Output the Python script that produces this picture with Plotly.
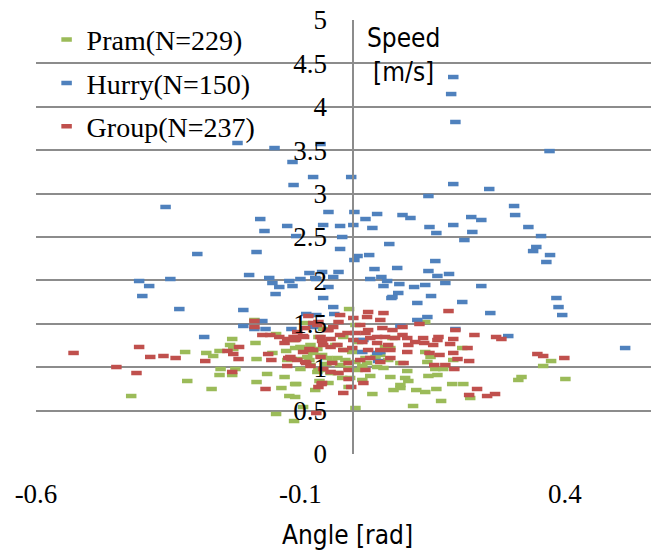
import plotly.graph_objects as go

# ---------------- data ----------------
pram_angle = [-0.420, -0.314, -0.318, -0.268, -0.278, -0.265, -0.253, -0.251, -0.253, -0.229,
              -0.233, -0.227, -0.229, -0.223, -0.187, -0.185, -0.183, -0.183, -0.163, -0.153,
              -0.146, -0.136, -0.130, -0.127, -0.121, -0.146, -0.125, -0.110, -0.108, -0.112,
              -0.095, -0.083, -0.076, -0.066, -0.066, -0.064, -0.051, -0.057, -0.087, -0.008,
              -0.113, -0.091, -0.100, -0.081, -0.068, -0.087, -0.106, -0.059, -0.049, -0.040,
              -0.030, -0.025, -0.015, -0.009, 0.004, 0.008, 0.017, 0.026, -0.021, -0.043,
              -0.030, -0.057, -0.068, -0.081, -0.100, -0.110, -0.110, -0.006, -0.009, 0.032,
              0.036, 0.070, 0.076, 0.089, 0.004, 0.023, 0.042, 0.051, 0.070, 0.074,
              0.060, 0.045, 0.004, -0.091, -0.019, 0.009, 0.089, 0.140, 0.146, 0.136,
              0.206, 0.189, 0.155, 0.170, 0.142, 0.159, 0.098, 0.104, 0.089, 0.119,
              0.136, 0.157, 0.187, 0.208, 0.166, 0.113, 0.221, 0.136, 0.312, 0.318,
              0.401, 0.359, 0.374, 0.102, -0.002, -0.034, 0.017, -0.017, -0.047, -0.072,
              0.057, 0.066]
pram_speed = [0.668, 0.841, 1.175, 0.749, 1.164, 1.129, 1.187, 0.979, 0.910, 1.325,
              1.256, 1.210, 0.910, 0.979, 1.544, 1.279, 1.094, 0.829, 0.922, 1.164,
              0.461, 0.760, 0.887, 1.187, 0.668, 1.382, 1.083, 1.221, 0.806, 0.380,
              0.541, 1.083, 1.164, 1.348, 0.968, 0.841, 1.037, 1.440, 1.187, 1.670,
              1.313, 1.198, 1.233, 1.256, 1.210, 1.118, 1.094, 1.141, 1.106, 1.060,
              1.106, 1.025, 1.083, 0.991, 1.060, 0.968, 1.014, 1.048, 0.876, 0.933,
              0.933, 0.968, 0.945, 1.025, 0.979, 0.806, 0.657, 0.876, 0.772, 0.899,
              0.691, 0.887, 0.737, 0.760, 0.530, 1.106, 1.118, 1.141, 1.221, 1.336,
              1.233, 1.002, 1.486, 1.509, 1.348, 1.290, 1.048, 1.060, 1.118, 1.175,
              1.221, 1.083, 0.979, 0.979, 0.899, 0.910, 0.876, 0.841, 0.795, 0.737,
              0.714, 0.749, 0.806, 0.806, 0.611, 0.553, 0.645, 1.521, 0.853, 0.887,
              0.864, 1.014, 1.071, 0.956, 1.175, 1.256, 0.853, 1.198, 0.818, 0.737,
              0.991, 1.083]

hurry_angle = [-0.219, -0.149, -0.062, -0.115, -0.076, -0.113, -0.355, -0.176, -0.125, -0.057,
               -0.168, -0.108, -0.295, -0.183, -0.405, -0.386, -0.346, -0.399, -0.197, -0.159,
               -0.153, -0.140, -0.147, -0.121, -0.115, -0.100, -0.083, -0.072, -0.057, -0.329,
               -0.208, -0.208, -0.172, -0.166, -0.089, -0.282, -0.117, -0.076, 0.189, 0.185,
               0.193, -0.004, 0.189, 0.257, 0.142, -0.047, 0.002, 0.023, 0.045, 0.093,
               0.108, -0.025, 0.000, 0.036, -0.021, 0.144, 0.157, 0.189, 0.223, 0.242,
               0.225, 0.210, -0.025, 0.068, 0.008, 0.002, 0.030, 0.155, 0.040, 0.083,
               0.142, 0.159, 0.181, 0.174, 0.242, -0.059, -0.028, -0.070, -0.038, -0.047,
               0.032, 0.053, 0.064, 0.057, 0.087, 0.115, 0.136, 0.085, 0.072, 0.121,
               0.147, 0.206, -0.038, -0.036, 0.121, 0.140, 0.259, -0.070, 0.019, 0.045,
               0.371, 0.304, 0.306, 0.331, 0.355, 0.346, 0.340, 0.372, 0.365, 0.384,
               0.388, 0.395, 0.293, 0.514, 0.193, 0.074, -0.187, 0.017, 0.051, 0.013,
               0.089, 0.047]
hurry_speed = [3.583, 3.525, 3.571, 3.364, 3.191, 3.099, 2.846, 2.707, 2.627, 2.638,
               2.569, 2.511, 2.304, 2.327, 1.993, 1.935, 2.016, 1.820, 2.062, 2.028,
               1.970, 1.924, 1.843, 1.993, 1.935, 2.016, 2.085, 2.028, 1.797, 1.670,
               1.659, 1.475, 1.532, 1.440, 1.613, 1.348, 1.440, 1.463, 4.343, 4.147,
               3.825, 3.191, 3.110, 3.053, 2.972, 2.788, 2.788, 2.707, 2.765, 2.753,
               2.719, 2.627, 2.638, 2.604, 2.500, 2.615, 2.546, 2.638, 2.730, 2.696,
               2.558, 2.465, 2.362, 2.419, 2.281, 2.235, 2.292, 2.223, 2.131, 2.143,
               2.108, 2.051, 2.074, 1.970, 1.935, 2.097, 2.097, 2.016, 2.039, 1.924,
               2.016, 2.039, 1.993, 1.935, 1.958, 1.924, 1.947, 1.855, 1.797, 1.740,
               1.820, 1.751, 1.693, 1.613, 1.544, 1.578, 1.624, 1.601, 1.313, 1.164,
               3.490, 2.857, 2.753, 2.615, 2.511, 2.385, 2.338, 2.292, 2.212, 1.797,
               1.693, 1.601, 1.359, 1.221, 1.440, 1.809, 1.440, 1.175, 1.175, 1.313,
               1.475, 1.071]

group_angle = [-0.529, -0.448, -0.410, -0.405, -0.384, -0.359, -0.336, -0.280, -0.238, -0.227,
               -0.229, -0.216, -0.217, -0.187, -0.187, -0.172, -0.161, -0.155, -0.166, -0.157,
               -0.140, -0.130, -0.125, -0.125, -0.117, -0.108, -0.093, -0.085, -0.083, -0.089,
               -0.076, -0.068, -0.070, -0.060, -0.057, -0.057, -0.047, -0.066, -0.025, 0.000,
               0.028, 0.026, 0.057, 0.051, -0.028, -0.038, 0.013, 0.028, 0.055, 0.074,
               -0.049, -0.091, -0.106, -0.113, -0.095, -0.110, -0.062, -0.043, -0.025, -0.011,
               0.004, 0.023, 0.032, 0.045, 0.060, 0.079, 0.000, 0.017, 0.045, 0.066,
               -0.059, -0.043, -0.030, -0.019, -0.002, 0.028, 0.051, 0.070, -0.076, -0.095,
               -0.119, -0.106, -0.091, -0.081, -0.062, -0.040, -0.009, 0.013, 0.032, 0.051,
               0.070, -0.043, -0.028, -0.009, 0.023, -0.009, 0.019, -0.059, -0.004, -0.019,
               -0.066, 0.180, 0.125, 0.193, 0.093, 0.093, 0.102, 0.117, 0.132, 0.134,
               0.161, 0.159, 0.189, 0.183, 0.229, 0.270, 0.280, 0.104, 0.151, 0.102,
               0.144, 0.163, 0.189, 0.216, 0.197, 0.219, 0.095, 0.153, 0.174, 0.191,
               0.234, 0.219, 0.253, 0.268, 0.348, 0.359, 0.399, 0.577, -0.123]
group_speed = [1.164, 1.002, 0.933, 1.233, 1.118, 1.129, 1.106, 1.071, 1.187, 1.152,
               0.945, 1.233, 1.094, 1.532, 1.463, 1.371, 1.152, 1.083, 0.749, 1.371,
               1.348, 1.279, 1.325, 1.014, 1.094, 1.325, 1.348, 1.590, 1.210, 1.048,
               1.509, 1.486, 0.472, 0.806, 1.256, 0.979, 1.428, 1.521, 1.601, 1.567,
               1.636, 1.578, 1.624, 1.544, 1.521, 1.463, 1.486, 1.428, 1.451, 1.428,
               1.428, 1.451, 1.405, 1.348, 1.359, 1.313, 1.348, 1.325, 1.371, 1.394,
               1.394, 1.394, 1.336, 1.348, 1.348, 1.336, 1.313, 1.290, 1.279, 1.256,
               1.302, 1.233, 1.256, 1.198, 1.221, 1.198, 1.198, 1.198, 1.198, 1.175,
               1.118, 1.083, 1.060, 1.014, 1.118, 1.048, 1.048, 1.083, 1.106, 1.060,
               1.106, 0.945, 0.933, 0.968, 0.968, 0.864, 0.818, 0.818, 0.772, 0.703,
               0.772, 1.647, 1.498, 1.428, 1.463, 1.371, 1.336, 1.290, 1.336, 1.279,
               1.348, 1.313, 1.325, 1.267, 1.371, 1.348, 1.325, 1.256, 1.256, 1.175,
               1.164, 1.141, 1.164, 1.221, 1.094, 1.071, 1.048, 1.025, 1.025, 0.979,
               0.749, 0.680, 0.668, 0.691, 1.152, 1.129, 1.106, 0.979, 1.106]

series_names = ["Pram(N=229)", "Hurry(N=150)", "Group(N=237)"]
series_colors = ["#9BBB59", "#4F81BD", "#C0504D"]

x_tickvals = [-0.6, -0.1, 0.4]
x_ticktext = ["-0.6", "-0.1", "0.4"]
x_range = [-0.6, 0.578]
y_range = [0, 5]

# ---------------- figure ----------------
SERIF = "Liberation Serif"
NARROW = "DejaVu Sans Condensed"
GRID = "#8C8C8C"

fig = go.Figure()
for name, color, xs, ys in zip(series_names, series_colors,
                               [pram_angle, hurry_angle, group_angle],
                               [pram_speed, hurry_speed, group_speed]):
    fig.add_trace(go.Scatter(
        x=xs, y=ys, mode="markers", name=name, legendgroup=name,
        marker=dict(symbol="line-ew", size=7.5, color=color,
                    line=dict(color=color, width=4.5)),
    ))

# The page body has an 8px margin, so the figure is sized to fill the rest of the window.
fig.update_layout(
    width=651, height=544,
    margin=dict(l=28, r=0, t=12, b=98, autoexpand=False),
    paper_bgcolor="white", plot_bgcolor="white",
    showlegend=True,
    legend=dict(x=0.017, y=1.012, xanchor="left", yanchor="top",
                bgcolor="rgba(0,0,0,0)", font=dict(family=SERIF, size=28, color="black"),
                tracegroupgap=4, itemwidth=30),
    xaxis=dict(range=x_range, tickvals=x_tickvals, ticktext=x_ticktext,
               showgrid=False, zeroline=False, showline=False, ticks="",
               automargin=False, ticklabelstandoff=21,
               tickfont=dict(family=SERIF, size=27, color="black"),
               title=dict(text="Angle [rad]", standoff=17,
                          font=dict(family=NARROW, size=26, color="black"))),
    yaxis=dict(range=y_range, dtick=0.5, tick0=0, anchor="free",
               position=(0 - x_range[0]) / (x_range[1] - x_range[0]),
               showgrid=True, gridcolor=GRID, gridwidth=2,
               zeroline=False, showline=True, linecolor=GRID, linewidth=2,
               automargin=False, ticks="", ticklabelstandoff=20,
               ticklabeloverflow="allow",
               tickfont=dict(family=SERIF, size=27, color="black")),
    annotations=[dict(text="Speed<br>[m/s]", x=0.095, y=4.6, xref="x", yref="y",
                      showarrow=False, xanchor="center", yanchor="middle",
                      font=dict(family=NARROW, size=26, color="black"))],
)

fig.write_html("out.html")
